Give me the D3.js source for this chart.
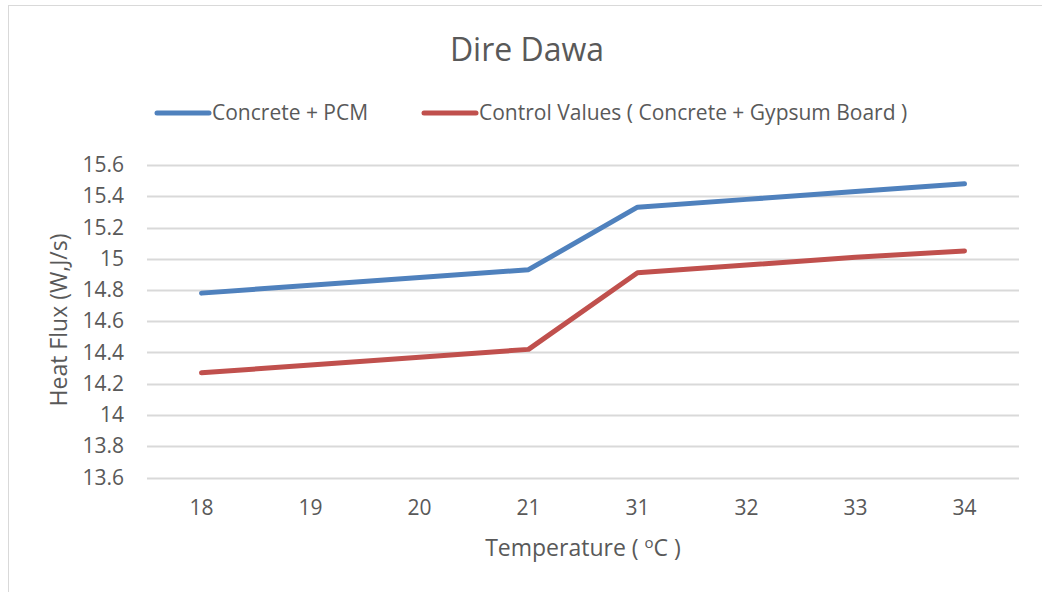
<!DOCTYPE html>
<html>
<head>
<meta charset="utf-8">
<script src="https://cdn.jsdelivr.net/npm/d3@7"></script>
<style>
  body { margin: 0; background: #fff; }
  text { font-family: "Open Sans", "Noto Sans", sans-serif; fill: #595959; }
</style>
</head>
<body>
<script>
var categories = ["18", "19", "20", "21", "31", "32", "33", "34"];
var pcmValues = [14.78, 14.83, 14.88, 14.93, 15.33, 15.38, 15.43, 15.48];
var controlValues = [14.27, 14.32, 14.37, 14.42, 14.91, 14.96, 15.01, 15.05];
var yTicks = [13.6, 13.8, 14, 14.2, 14.4, 14.6, 14.8, 15, 15.2, 15.4, 15.6];
var seriesNames = ["Concrete + PCM", "Control Values ( Concrete + Gypsum Board )"];
var seriesColors = ["#4F81BD", "#C0504D"];

var W = 1042, H = 592;
var margin = {top: 165, right: 23, bottom: 115, left: 147};
var width = W - margin.left - margin.right,
    height = H - margin.top - margin.bottom;

var svg = d3.select("body").append("svg")
  .attr("width", W)
  .attr("height", H);

// chart border
svg.append("rect")
  .attr("x", 8.5).attr("y", 5.5)
  .attr("width", W + 10).attr("height", H + 10)
  .attr("fill", "none")
  .attr("stroke", "#d9d9d9");

var g = svg.append("g")
  .attr("transform", "translate(" + margin.left + "," + margin.top + ")");

var x = d3.scaleBand()
  .domain(categories)
  .range([0, width]);

var y = d3.scaleLinear()
  .domain([13.6, 15.6])
  .range([height + 0.5, 0]);

// gridlines
g.append("g")
  .selectAll("line")
  .data(yTicks)
  .enter().append("line")
    .attr("x1", 0).attr("x2", width)
    .attr("y1", function(d) { return Math.round(y(d)) + 0.5; })
    .attr("y2", function(d) { return Math.round(y(d)) + 0.5; })
    .attr("stroke", "#d9d9d9")
    .attr("stroke-width", 2);

var yAxis = d3.axisLeft(y)
  .tickValues(yTicks)
  .tickSize(0)
  .tickPadding(23)
  .tickFormat(function(d) { return d3.format("")(+d.toFixed(1)); });

g.append("g")
  .call(yAxis)
  .call(function(a) { a.select(".domain").remove(); })
  .selectAll("text")
    .style("font-size", "21px")
    .style("font-family", "'Open Sans', sans-serif")
    .attr("fill", "#595959");

var xAxis = d3.axisBottom(x)
  .tickSize(0)
  .tickPadding(23);

g.append("g")
  .attr("transform", "translate(0," + height + ")")
  .call(xAxis)
  .call(function(a) { a.select(".domain").remove(); })
  .selectAll("text")
    .style("font-size", "21px")
    .style("font-family", "'Open Sans', sans-serif")
    .attr("fill", "#595959");

var line = d3.line()
  .x(function(d, i) { return x(categories[i]) + x.bandwidth() / 2; })
  .y(function(d) { return y(d); });

[pcmValues, controlValues].forEach(function(vals, i) {
  g.append("path")
    .datum(vals)
    .attr("fill", "none")
    .attr("stroke", seriesColors[i])
    .attr("stroke-width", 5)
    .attr("stroke-linecap", "round")
    .attr("stroke-linejoin", "round")
    .attr("d", line);
});

// title
svg.append("text")
  .attr("x", 527).attr("y", 61)
  .attr("text-anchor", "middle")
  .style("font-size", "32px")
  .text("Dire Dawa");

// legend
var legendX = [157, 424];
seriesNames.forEach(function(name, i) {
  svg.append("line")
    .attr("x1", legendX[i]).attr("x2", legendX[i] + 52)
    .attr("y1", 113).attr("y2", 113)
    .attr("stroke", seriesColors[i])
    .attr("stroke-width", 5)
    .attr("stroke-linecap", "round");
  svg.append("text")
    .attr("x", legendX[i] + 55).attr("y", 120)
    .style("font-size", "21px")
    .text(name);
});

// axis titles
var xt = svg.append("text")
  .attr("x", 583).attr("y", 556)
  .attr("text-anchor", "middle")
  .style("font-size", "23px");
xt.append("tspan").text("Temperature ( ");
xt.append("tspan").attr("dy", -8).style("font-size", "15px").text("o");
xt.append("tspan").attr("dy", 8).text("C )");

svg.append("text")
  .attr("transform", "translate(67,320) rotate(-90)")
  .attr("text-anchor", "middle")
  .style("font-size", "23px")
  .text("Heat Flux (W,J/s)");
</script>
</body>
</html>
